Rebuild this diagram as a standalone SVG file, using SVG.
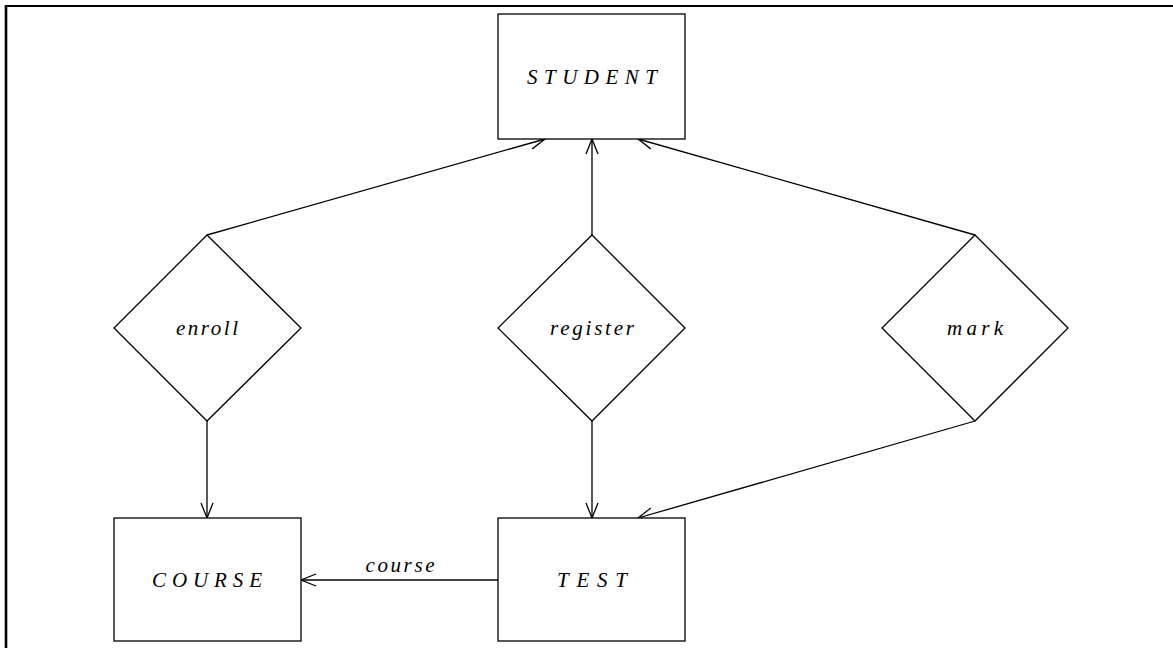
<svg xmlns="http://www.w3.org/2000/svg" width="1173" height="648" viewBox="0 0 1173 648">
<defs>
<style>
.box{fill:#fff;stroke:#000;stroke-width:1.3}
.line{fill:none;stroke:#000;stroke-width:1.3}
.lbl{font-family:"Liberation Serif",serif;font-style:italic;font-size:21px;text-anchor:middle}
.frame{fill:none;stroke:#000}
</style>
<marker id="arr" viewBox="0 0 20 20" refX="16" refY="10" markerWidth="20" markerHeight="20" markerUnits="userSpaceOnUse" orient="auto">
<path d="M1,4 L16,10 L1,16" fill="none" stroke="#000" stroke-width="1.3"/>
</marker>
</defs>
<rect width="1173" height="648" fill="#fff"/>
<g id="frame">
<line class="frame" x1="5" y1="6" x2="1173" y2="6" stroke-width="2.2"/>
<line class="frame" x1="6" y1="5" x2="6" y2="648" stroke-width="2.6"/>
</g>
<g id="connectors">
<line class="line" x1="207" y1="235" x2="545" y2="139" marker-end="url(#arr)"/>
<line class="line" x1="592" y1="235" x2="592" y2="139" marker-end="url(#arr)"/>
<line class="line" x1="975" y1="235" x2="638" y2="139" marker-end="url(#arr)"/>
<line class="line" x1="207" y1="421" x2="207" y2="518" marker-end="url(#arr)"/>
<line class="line" x1="592" y1="421" x2="592" y2="518" marker-end="url(#arr)"/>
<line class="line" x1="975" y1="421" x2="638" y2="518" marker-end="url(#arr)"/>
<line class="line" x1="498" y1="580" x2="301" y2="580" marker-end="url(#arr)"/>
<text class="lbl" x="400" y="572" textLength="69" lengthAdjust="spacing">course</text>
</g>
<g id="student">
<rect class="box" x="498" y="14" width="187" height="125"/>
<text class="lbl" x="592" y="84" textLength="130" lengthAdjust="spacing">STUDENT</text>
</g>
<g id="enroll">
<polygon class="box" points="207,235 301,328 207,421 114,328"/>
<text class="lbl" x="207" y="335" textLength="62" lengthAdjust="spacing">enroll</text>
</g>
<g id="register">
<polygon class="box" points="592,235 685,328 592,421 498,328"/>
<text class="lbl" x="592" y="335" textLength="84" lengthAdjust="spacing">register</text>
</g>
<g id="mark">
<polygon class="box" points="975,235 1068,328 975,421 882,328"/>
<text class="lbl" x="975" y="335" textLength="56" lengthAdjust="spacing">mark</text>
</g>
<g id="course">
<rect class="box" x="114" y="518" width="187" height="123"/>
<text class="lbl" x="207" y="587" textLength="110" lengthAdjust="spacing">COURSE</text>
</g>
<g id="test">
<rect class="box" x="498" y="518" width="187" height="123"/>
<text class="lbl" x="592" y="587" textLength="70" lengthAdjust="spacing">TEST</text>
</g>
</svg>
